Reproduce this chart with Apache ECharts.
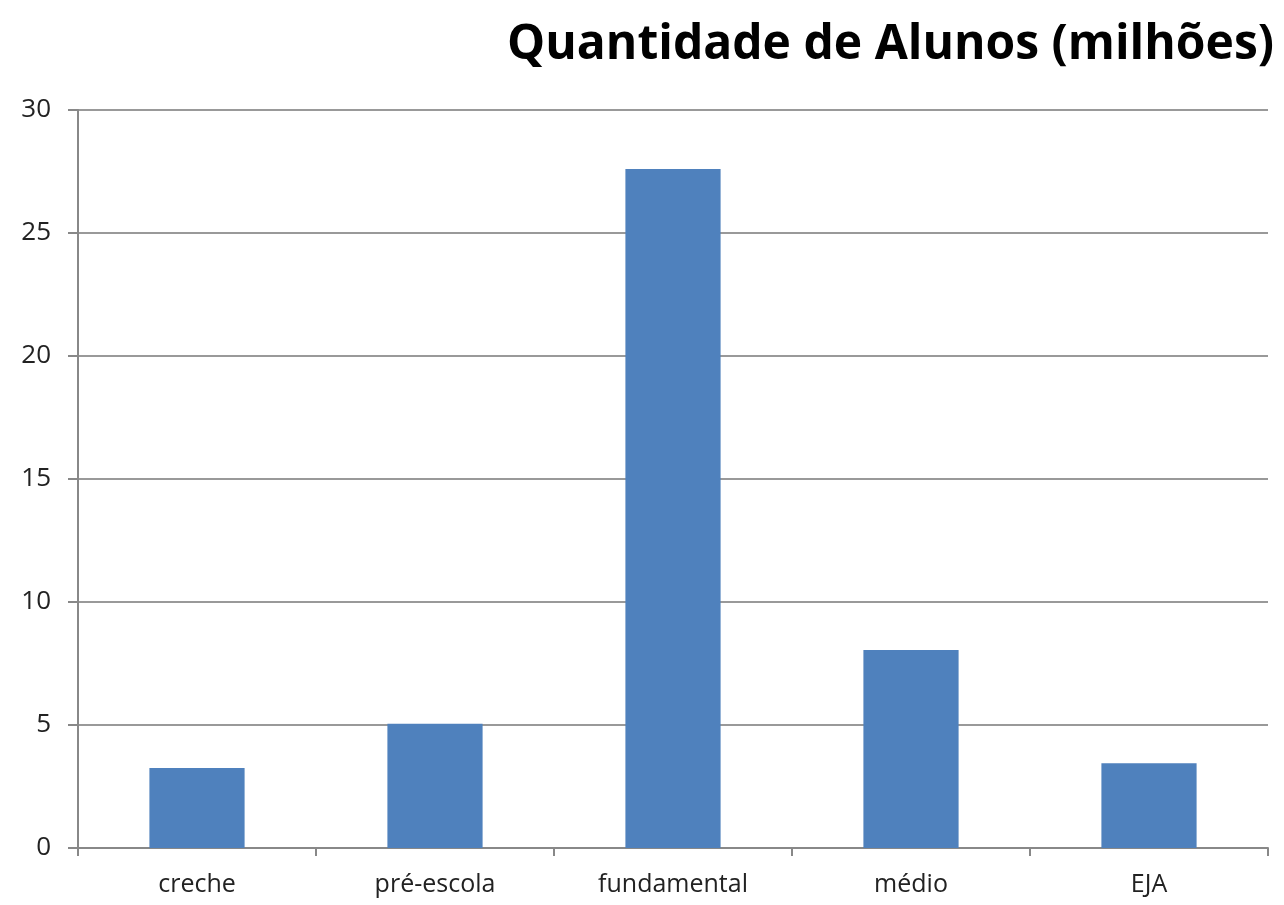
<!DOCTYPE html>
<html>
<head>
<meta charset="utf-8">
<script src="https://cdn.jsdelivr.net/npm/echarts@6/dist/echarts.min.js"></script>
<style>
  html, body { margin: 0; padding: 0; background: #fff; }
  #chart { width: 1284px; height: 905px; }
</style>
</head>
<body>
<div id="chart"></div>
<script>
// dados
const categories = ['creche', 'pré-escola', 'fundamental', 'médio', 'EJA']
const alunos = [3.25, 5.05, 27.6, 8.05, 3.45]
const yTicks = [0, 5, 10, 15, 20, 25, 30]

const chart = echarts.init(document.getElementById('chart'))

chart.setOption({
  animation: false,
  title: {
    text: 'Quantidade de Alunos (milhões)',
    right: 5,
    top: 16,
    textStyle: {
      fontFamily: 'Open Sans',
      fontWeight: 'bold',
      fontSize: 48,
      color: '#000',
    },
  },
  grid: {
    left: 78,
    right: 16,
    top: 110,
    bottom: 57,
  },
  xAxis: {
    type: 'category',
    data: categories,
    axisLine: { lineStyle: { color: '#888', width: 2 } },
    axisTick: { show: true, length: 8, lineStyle: { color: '#888', width: 2 } },
    axisLabel: {
      color: '#222',
      fontFamily: 'Open Sans',
      fontSize: 25,
      margin: 24,
    },
  },
  yAxis: {
    type: 'value',
    min: yTicks[0],
    max: yTicks[yTicks.length - 1],
    interval: 5,
    axisLine: { show: true, lineStyle: { color: '#888', width: 2 } },
    axisTick: { show: true, length: 10, lineStyle: { color: '#888', width: 2 } },
    splitLine: { lineStyle: { color: '#999', width: 2 } },
    axisLabel: {
      color: '#222',
      fontFamily: 'Open Sans',
      fontSize: 26,
      margin: 27,
    },
  },
  series: [
    {
      type: 'bar',
      data: alunos,
      barWidth: '40%',
      itemStyle: { color: '#4F81BD' },
    },
  ],
})
</script>
</body>
</html>
